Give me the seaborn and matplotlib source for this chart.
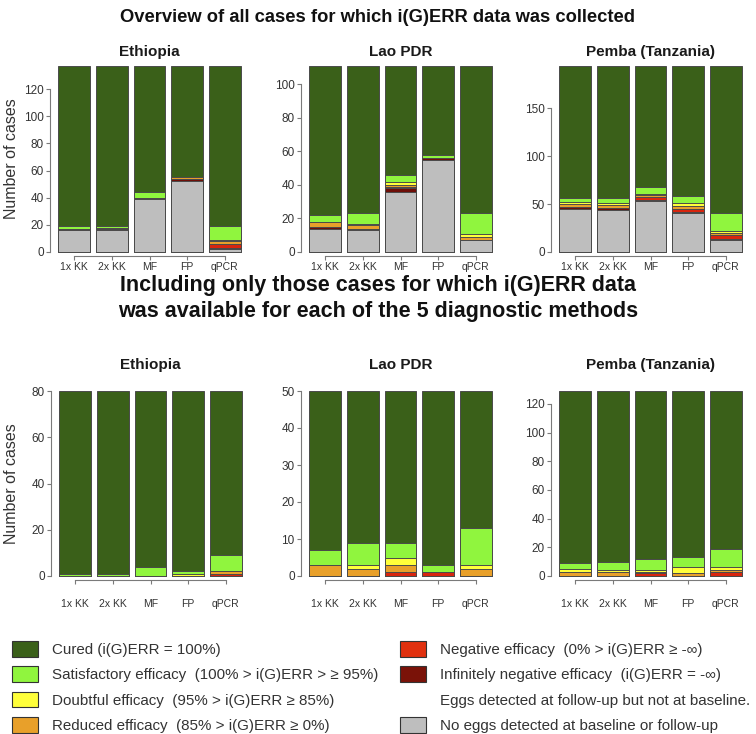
import numpy as np
import pandas as pd
import matplotlib
matplotlib.use("Agg")
import matplotlib.pyplot as plt
import seaborn as sns
from matplotlib.patches import Patch

# ---------------- data ----------------
methods = ["1x KK", "2x KK", "MF", "FP", "qPCR"]
categories = ["No eggs", "Infinitely negative", "Negative", "Reduced",
              "Doubtful", "Satisfactory", "Cured"]  # bottom -> top
colors = ["#BEBEBE", "#6E0F08", "#D8250E", "#E8A02A", "#FFFF3A", "#90F53E", "#3A6019"]

# Overview (all cases) - rows follow `categories`, columns follow `methods`
eth_all = [[16, 16, 39, 52, 2],
           [1, 1, 1, 2, 1],
           [0, 0, 0, 0, 3],
           [0, 1, 0, 1, 2],
           [0, 0, 0, 0, 1],
           [2, 1, 4, 0, 10],
           [118, 118, 93, 82, 118]]
lao_all = [[14, 13, 36, 55, 7],
           [1, 1, 2, 1, 0],
           [0, 0, 1, 0, 0],
           [3, 2, 1, 0, 2],
           [0, 1, 2, 0, 2],
           [4, 6, 4, 2, 12],
           [89, 88, 65, 53, 88]]
pem_all = [[45, 44, 53, 41, 12],
           [2, 2, 1, 1, 2],
           [0, 0, 3, 3, 4],
           [3, 3, 2, 3, 2],
           [2, 2, 1, 3, 2],
           [4, 5, 8, 7, 19],
           [138, 138, 126, 136, 153]]
# Only cases with data for all 5 methods
eth_sub = [[0, 0, 0, 0, 0],
           [0, 0, 0, 0, 0],
           [0, 0, 0, 0, 1],
           [0, 0, 0, 0, 1],
           [0, 0, 0, 1, 0],
           [1, 1, 4, 1, 7],
           [79, 79, 76, 78, 71]]
lao_sub = [[0, 0, 0, 0, 0],
           [0, 0, 0, 0, 0],
           [0, 0, 1, 1, 0],
           [3, 2, 2, 0, 2],
           [0, 1, 2, 0, 1],
           [4, 6, 4, 2, 10],
           [43, 41, 41, 47, 37]]
pem_sub = [[0, 0, 0, 0, 0],
           [0, 0, 0, 0, 0],
           [0, 0, 2, 0, 3],
           [3, 3, 1, 2, 1],
           [2, 1, 1, 4, 2],
           [4, 6, 8, 7, 13],
           [120, 119, 117, 116, 110]]

countries = ["Ethiopia", "Lao PDR", "Pemba (Tanzania)"]
yticks_all = [[0, 20, 40, 60, 80, 100, 120], [0, 20, 40, 60, 80, 100], [0, 50, 100, 150]]
yticks_sub = [[0, 20, 40, 60, 80], [0, 10, 20, 30, 40, 50], [0, 20, 40, 60, 80, 100, 120]]

legend_labels = ["Cured (i(G)ERR = 100%)",
                 "Satisfactory efficacy  (100% > i(G)ERR > \u2265 95%)",
                 "Doubtful efficacy  (95% > i(G)ERR \u2265 85%)",
                 "Reduced efficacy  (85% > i(G)ERR \u2265 0%)",
                 "Negative efficacy  (0% > i(G)ERR \u2265 -\u221e)",
                 "Infinitely negative efficacy  (i(G)ERR = -\u221e)",
                 "Eggs detected at follow-up but not at baseline.",
                 "No eggs detected at baseline or follow-up"]

# ---------------- style ----------------
sns.set_theme(style="ticks")
plt.rcParams['font.family'] = ['Liberation Sans', 'DejaVu Sans']

W, H = 756, 734
fig = plt.figure(figsize=(W / 100, H / 100), dpi=100)
fig.patch.set_facecolor("white")

AX_COL = "#7a7a7a"
TXT_COL = "#333333"


def px_axes(l, t, r, b):
    return fig.add_axes([l / W, 1 - b / H, (r - l) / W, (b - t) / H])


def draw_panel(ax, data, yticks, xlab_pad, xlab_size):
    arr = np.array(data)
    cum = arr.cumsum(axis=0)
    total = cum[-1].max()
    for k in range(len(categories) - 1, -1, -1):
        df = pd.DataFrame({"method": methods, "n": cum[k]})
        sns.barplot(data=df, x="method", y="n", order=methods, color=colors[k],
                    saturation=1, width=0.84, edgecolor="#4a4a4a", linewidth=0.7,
                    errorbar=None, ax=ax)
    ax.set_xlim(-0.43, 4.43)
    ax.set_ylim(0, total)
    for p in ax.patches:
        p.set_clip_on(False)
    ax.set_xlabel("")
    ax.set_ylabel("")
    sns.despine(ax=ax)
    ax.spines["left"].set_position(("outward", 5.8))
    ax.spines["bottom"].set_position(("outward", 2.9))
    ax.spines["left"].set_bounds(yticks[0], yticks[-1])
    ax.spines["bottom"].set_bounds(0, 4)
    for s in ("left", "bottom"):
        ax.spines[s].set_color(AX_COL)
        ax.spines[s].set_linewidth(0.8)
    ax.set_yticks(yticks)
    ax.set_yticklabels([str(v) for v in yticks])
    ax.set_xticks(range(len(methods)))
    ax.set_xticklabels(methods)
    ax.tick_params(axis="y", length=3, width=0.8, color=AX_COL, labelsize=8.5,
                   labelcolor=TXT_COL, pad=1.5)
    ax.tick_params(axis="x", length=3, width=0.8, color=AX_COL, labelsize=xlab_size,
                   labelcolor=TXT_COL, pad=xlab_pad)


top_boxes = [(58, 66, 241, 252), (309, 66, 492, 252), (559, 66, 742, 252)]
bot_boxes = [(59, 391, 242, 576), (309, 391, 492, 576), (559, 391, 742, 576)]
all_data = [eth_all, lao_all, pem_all]
sub_data = [eth_sub, lao_sub, pem_sub]

for i in range(3):
    ax = px_axes(*top_boxes[i])
    draw_panel(ax, all_data[i], yticks_all[i], 1.5, 7.5)
    l, t, r, b = top_boxes[i]
    fig.text((l + r) / 2 / W, 1 - 52 / H, countries[i], ha="center", va="center",
             fontsize=11, fontweight="bold", color="#1a1a1a")
    ax2 = px_axes(*bot_boxes[i])
    draw_panel(ax2, sub_data[i], yticks_sub[i], 10.5, 7.5)
    l, t, r, b = bot_boxes[i]
    fig.text((l + r) / 2 / W, 1 - 365 / H, countries[i], ha="center", va="center",
             fontsize=11, fontweight="bold", color="#1a1a1a")

fig.text(12 / W, 1 - 159 / H, "Number of cases", rotation=90, ha="center", va="center",
         fontsize=11.5, color=TXT_COL)
fig.text(12 / W, 1 - 484 / H, "Number of cases", rotation=90, ha="center", va="center",
         fontsize=11.5, color=TXT_COL)

fig.text(0.5, 1 - 18 / H, "Overview of all cases for which i(G)ERR data was collected",
         ha="center", va="center", fontsize=13.2, fontweight="bold", color="#111111")
fig.text(0.5, 1 - 286 / H, "Including only those cases for which i(G)ERR data",
         ha="center", va="center", fontsize=15.5, fontweight="bold", color="#111111")
fig.text(0.5, 1 - 311 / H, "was available for each of the 5 diagnostic methods",
         ha="center", va="center", fontsize=15.5, fontweight="bold", color="#111111")

# ---------------- legend ----------------
edge = "#333333"
left_handles = [Patch(facecolor=colors[6], edgecolor=edge, linewidth=0.8),
                Patch(facecolor=colors[5], edgecolor=edge, linewidth=0.8),
                Patch(facecolor=colors[4], edgecolor=edge, linewidth=0.8),
                Patch(facecolor=colors[3], edgecolor=edge, linewidth=0.8)]
right_handles = [Patch(facecolor="#E0300E", edgecolor=edge, linewidth=0.8),
                 Patch(facecolor="#7A1208", edgecolor=edge, linewidth=0.8),
                 Patch(facecolor="none", edgecolor="none"),
                 Patch(facecolor=colors[0], edgecolor=edge, linewidth=0.8)]
leg_kw = dict(frameon=False, handlelength=1.72, handleheight=1.2,
              handletextpad=0.9, labelspacing=0.63, borderpad=0, borderaxespad=0,
              loc="upper left", labelcolor=TXT_COL,
              prop={"family": ["Liberation Sans", "DejaVu Sans"], "size": 10.9})
fig.legend(left_handles, legend_labels[:4], bbox_to_anchor=(12 / W, 1 - 641 / H), **leg_kw)
fig.legend(right_handles, legend_labels[4:], bbox_to_anchor=(400 / W, 1 - 641 / H), **leg_kw)

fig.savefig("out.png", dpi=100, facecolor="white")
